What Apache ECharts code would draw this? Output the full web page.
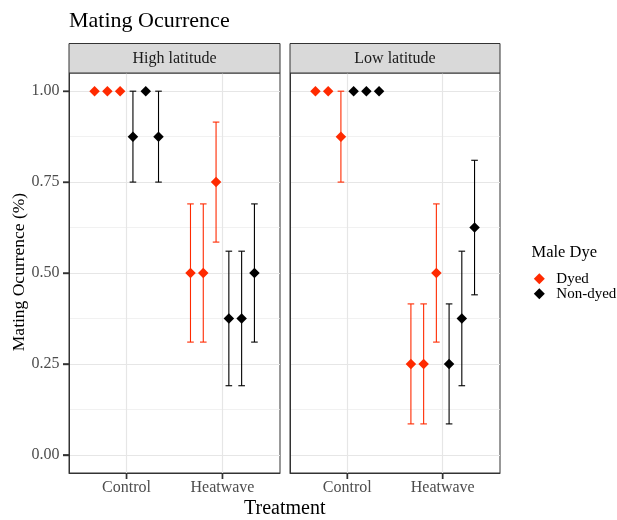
<!DOCTYPE html>
<html><head><meta charset="utf-8">
<script src="https://cdn.jsdelivr.net/npm/echarts@6/dist/echarts.min.js"></script>
<style>html,body{margin:0;padding:0;background:#fff}#c{width:617px;height:520px}</style>
</head><body><div id="c"></div>
<script>
// ---------- data ----------
const panels = ['High latitude', 'Low latitude'];
const categories = ['Control', 'Heatwave'];
const groups = ['Dyed', 'Non-dyed'];
const yTicks = [0, 0.25, 0.5, 0.75, 1];
const yMinorTicks = [0.125, 0.375, 0.625, 0.875];

// [treatment][replicate]
const highDyedMean = [[1, 1, 1], [0.5, 0.5, 0.75]];
const highDyedLow  = [[null, null, null], [0.31, 0.31, 0.585]];
const highDyedHigh = [[null, null, null], [0.69, 0.69, 0.915]];
const highNonMean  = [[0.875, 1, 0.875], [0.375, 0.375, 0.5]];
const highNonLow   = [[0.75, null, 0.75], [0.19, 0.19, 0.31]];
const highNonHigh  = [[1.0, null, 1.0], [0.56, 0.56, 0.69]];
const lowDyedMean  = [[1, 1, 0.875], [0.25, 0.25, 0.5]];
const lowDyedLow   = [[null, null, 0.75], [0.085, 0.085, 0.31]];
const lowDyedHigh  = [[null, null, 1.0], [0.415, 0.415, 0.69]];
const lowNonMean   = [[1, 1, 1], [0.25, 0.375, 0.625]];
const lowNonLow    = [[null, null, null], [0.085, 0.19, 0.44]];
const lowNonHigh   = [[null, null, null], [0.415, 0.56, 0.81]];

const dataByPanel = [
  [[highDyedMean, highDyedLow, highDyedHigh], [highNonMean, highNonLow, highNonHigh]],
  [[lowDyedMean, lowDyedLow, lowDyedHigh], [lowNonMean, lowNonLow, lowNonHigh]]
];

// ---------- styling ----------
const FONT = "'Liberation Serif','DejaVu Serif',serif";
const groupColors = ['#ff2a00', '#000000'];
const gridDefs = [{left: 69, top: 73, width: 211, height: 400}, {left: 290, top: 73, width: 210, height: 400}];
const X_MIN = 0.4, X_MAX = 2.6, Y_MIN = -0.05, Y_MAX = 1.05;
const dodgeWidth = 0.8, nSlots = 6, TICK_LEN = 6;

const chart = echarts.init(document.getElementById('c'), null, {renderer: 'canvas'});

const grids = gridDefs.map(g => Object.assign({show: true, borderColor: '#333333', borderWidth: 1, backgroundColor: '#ffffff', containLabel: false}, g));

const xAxes = gridDefs.map((g, p) => ({
  type: 'value', gridIndex: p, min: X_MIN, max: X_MAX, position: 'bottom',
  axisLine: {show: true, onZero: false, lineStyle: {color: '#333333', width: 1}},
  axisTick: {show: true, inside: false, length: TICK_LEN, lineStyle: {color: '#333333', width: 1.4}, customValues: categories.map((c, i) => i + 1)},
  axisLabel: {show: true, margin: 7, color: '#4d4d4d', fontFamily: FONT, fontSize: 16,
    customValues: categories.map((c, i) => i + 1),
    formatter: v => categories[Math.round(v) - 1] || ''},
  splitLine: {show: true, lineStyle: {color: '#e6e6e6', width: 1.2}}
}));

const yAxes = [];
gridDefs.forEach((g, p) => {
  yAxes.push({
    type: 'value', gridIndex: p, min: Y_MIN, max: Y_MAX, position: 'left',
    axisLine: {show: true, onZero: false, lineStyle: {color: '#333333', width: 1}},
    axisTick: {show: p === 0, inside: false, length: TICK_LEN, lineStyle: {color: '#333333', width: 1.4}, customValues: yTicks},
    axisLabel: {show: p === 0, margin: 9.5, color: '#4d4d4d', fontFamily: FONT, fontSize: 16,
      customValues: yTicks, formatter: v => v.toFixed(2)},
    splitLine: {show: true, lineStyle: {color: '#e6e6e6', width: 1.2}}
  });
  yAxes.push({
    type: 'value', gridIndex: p, min: Y_MIN, max: Y_MAX, position: 'left',
    axisLine: {show: false, onZero: false},
    axisTick: {show: false, customValues: yMinorTicks},
    axisLabel: {show: false, customValues: yMinorTicks},
    splitLine: {show: true, lineStyle: {color: '#ebebeb', width: 0.7}}
  });
});

function slotX(t, slot) {
  return t + 1 + (slot - (nSlots - 1) / 2) * (dodgeWidth / nSlots);
}

const series = [];
dataByPanel.forEach((panel, p) => {
  panel.forEach(([mean, lo, hi], g) => {
    const pts = [], bars = [];
    mean.forEach((reps, t) => {
      reps.forEach((m, r) => {
        const x = slotX(t, g * 3 + r);
        pts.push([x, m]);
        if (lo[t][r] != null) bars.push([x, lo[t][r], hi[t][r]]);
      });
    });
    const color = groupColors[g];
    series.push({
      type: 'custom', name: groups[g] + ' interval', xAxisIndex: p, yAxisIndex: p * 2, z: 2,
      silent: true, encode: {x: 0, y: [1, 2]}, data: bars,
      renderItem: (params, api) => {
        const x = api.value(0);
        const a = api.coord([x, api.value(1)]), b = api.coord([x, api.value(2)]);
        const hw = 3.3;
        const style = {stroke: color, lineWidth: 1.1, fill: null};
        return {type: 'group', children: [
          {type: 'line', shape: {x1: a[0], y1: a[1], x2: b[0], y2: b[1]}, style},
          {type: 'line', shape: {x1: a[0] - hw, y1: a[1], x2: a[0] + hw, y2: a[1]}, style},
          {type: 'line', shape: {x1: b[0] - hw, y1: b[1], x2: b[0] + hw, y2: b[1]}, style}
        ]};
      }
    });
    series.push({
      type: 'scatter', name: groups[g], xAxisIndex: p, yAxisIndex: p * 2, z: 3,
      symbol: 'diamond', symbolSize: 10.5, itemStyle: {color: color, opacity: 1},
      data: pts
    });
  });
});

const graphics = [];
gridDefs.forEach((g, p) => {
  graphics.push({type: 'rect', shape: {x: g.left, y: 43.5, width: g.width, height: g.top - 43.5},
    style: {fill: '#d9d9d9', stroke: '#333333', lineWidth: 1}, z: 10});
  graphics.push({type: 'text', x: g.left + g.width / 2, y: 59, z: 11,
    style: {text: panels[p], fill: '#1a1a1a', font: '16px ' + FONT, align: 'center', verticalAlign: 'middle'}});
});
graphics.push({type: 'text', x: 69, y: 20.8, style: {text: 'Mating Ocurrence', fill: '#000', font: '22px ' + FONT, align: 'left', verticalAlign: 'middle'}});
graphics.push({type: 'text', x: 284.7, y: 509, style: {text: 'Treatment', fill: '#000', font: '20px ' + FONT, align: 'center', verticalAlign: 'middle'}});
graphics.push({type: 'text', x: 19, y: 272, rotation: Math.PI / 2, style: {text: 'Mating Ocurrence (%)', fill: '#000', font: '17.5px ' + FONT, align: 'center', verticalAlign: 'middle'}});
graphics.push({type: 'text', x: 531.5, y: 252.5, style: {text: 'Male Dye', fill: '#000', font: '16.5px ' + FONT, align: 'left', verticalAlign: 'middle'}});

chart.setOption({
  animation: false,
  backgroundColor: '#ffffff',
  grid: grids,
  xAxis: xAxes,
  yAxis: yAxes,
  legend: {
    data: groups.map(n => ({name: n, icon: 'diamond'})),
    orient: 'vertical', left: 533.8, top: 271.3, padding: 0,
    itemWidth: 11, itemHeight: 11, itemGap: 0,
    textStyle: {fontFamily: FONT, fontSize: 15, color: '#000', lineHeight: 14, padding: [0, 0, 0, 6.5]},
    selectedMode: false
  },
  graphic: graphics,
  series: series
});

// outward tick marks, positioned with the library's own axis scales
const tickGraphics = [];
const tickStyle = {stroke: '#333333', lineWidth: 1.4};
gridDefs.forEach((g, p) => {
  categories.forEach((c, i) => {
    const pt = chart.convertToPixel({xAxisIndex: p, yAxisIndex: p * 2}, [i + 1, Y_MIN]);
    tickGraphics.push({type: 'line', z: 20, shape: {x1: pt[0], y1: pt[1], x2: pt[0], y2: pt[1] + TICK_LEN}, style: tickStyle});
  });
});
yTicks.forEach(v => {
  const pt = chart.convertToPixel({xAxisIndex: 0, yAxisIndex: 0}, [X_MIN, v]);
  tickGraphics.push({type: 'line', z: 20, shape: {x1: pt[0] - TICK_LEN, y1: pt[1], x2: pt[0], y2: pt[1]}, style: tickStyle});
});
chart.setOption({graphic: graphics.concat(tickGraphics)});
</script>
</body></html>
